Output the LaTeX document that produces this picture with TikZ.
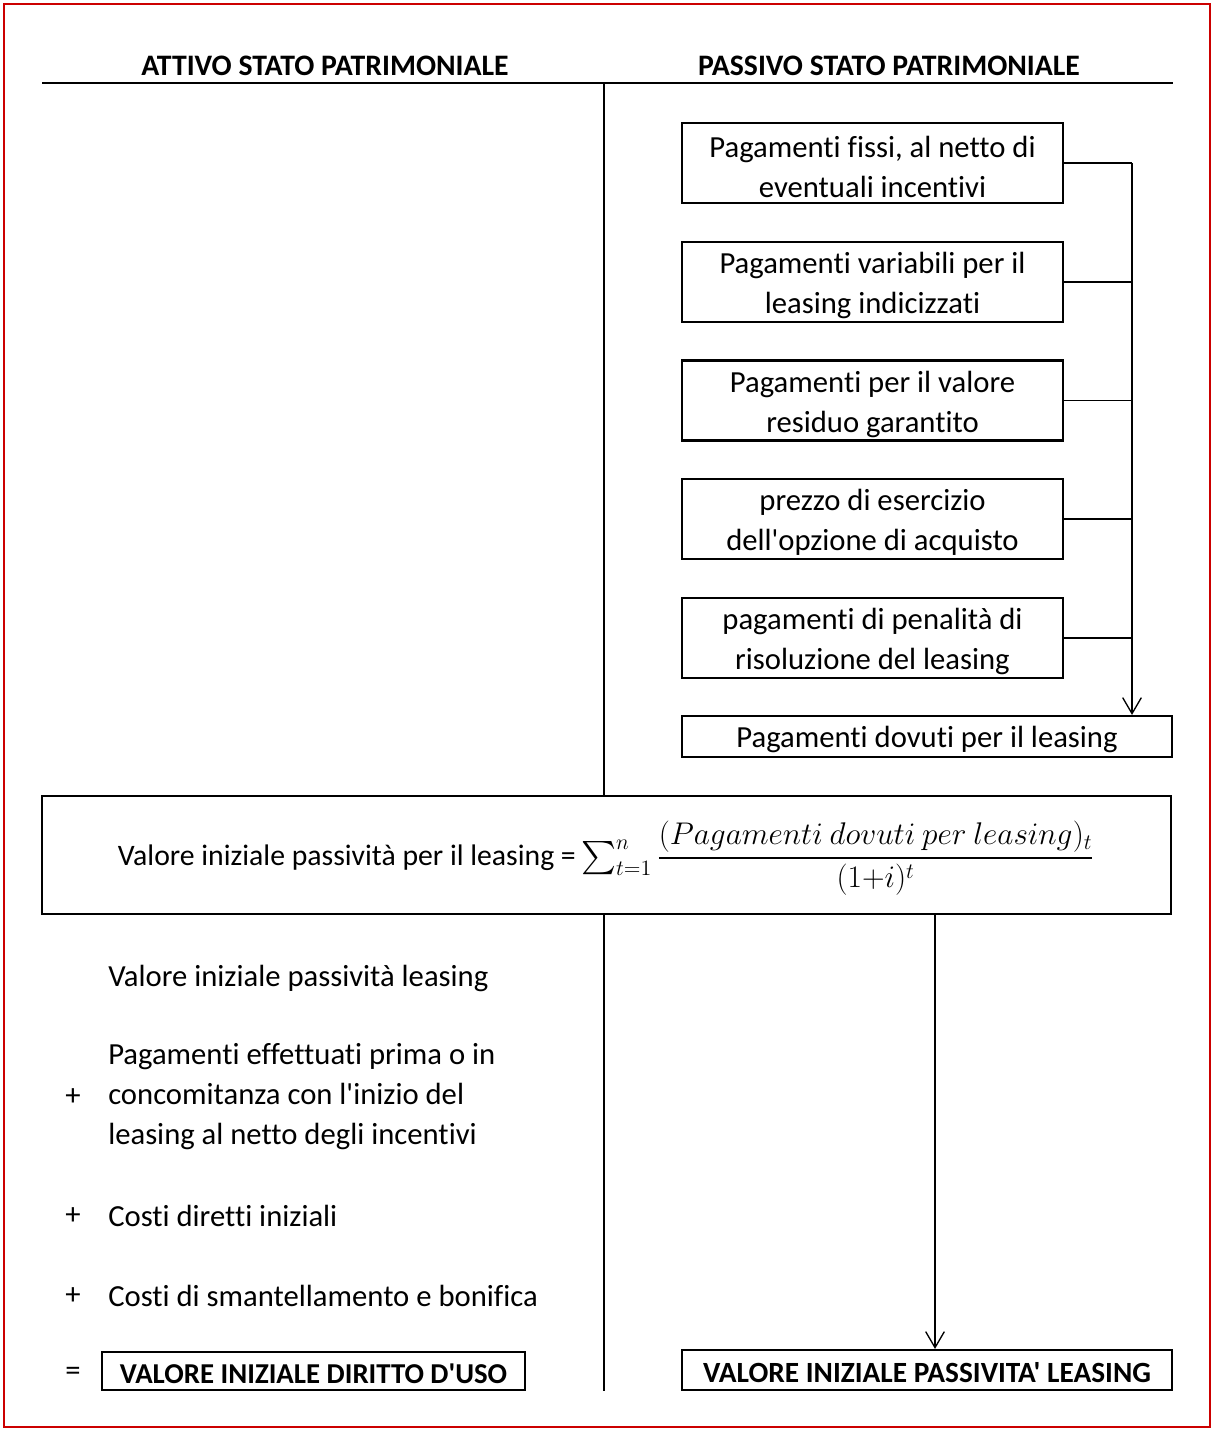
\documentclass[tikz,border=0pt]{standalone}
\usepackage{fix-cm}
\usepackage{exscale}
\usepackage{fontspec}
\setmainfont{Carlito}[Ligatures={TeXOff,NoCommon}]
\usetikzlibrary{arrows.meta}
\definecolor{frame}{RGB}{204,0,0}
\begin{document}
\begin{tikzpicture}[x=0.75pt,y=-0.75pt,
  every node/.style={font=\fontsize{23}{30}\selectfont},
  hdr/.style={font=\bfseries\fontsize{22.3}{26}\selectfont},
  bigbold/.style={font=\bfseries\fontsize{21.6}{26}\selectfont},
  rule/.style={line width=2pt},
  conn/.style={line width=1.4pt},
  arr/.style={line width=1pt,-{Straight Barb[length=12pt,width=14pt,line width=1pt]}},
  pbox/.style={draw,line width=1.6pt,minimum width=381*0.75pt,minimum height=80*0.75pt,inner sep=0pt,align=center},
  sbox/.style={draw,line width=1.6pt,inner sep=0pt,align=center},
  ltext/.style={anchor=west,align=left,inner sep=0pt}
]
\useasboundingbox (0,0) rectangle (1213,1430);
\draw[frame,line width=2pt] (4,4) rectangle (1210,1427);

% headers
\node[hdr] (hA) at (325,66) {ATTIVO STATO PATRIMONIALE};
\node[hdr] (hP) at (889,66) {PASSIVO STATO PATRIMONIALE};
\coordinate (hl) at (42,83);
\coordinate (hr) at (1173,83);
\draw[rule] (hl) -- (hr);
\coordinate (vtop) at (604,83);
\coordinate (vbot) at (604,1391);

% right boxes
\node[pbox] (b1) at (872.5,163) {\rule{0pt}{21.5pt}Pagamenti fissi, al netto di\\eventuali incentivi};
\node[pbox] (b2) at (872.5,282) {\rule{0pt}{21.5pt}Pagamenti variabili per il\\leasing indicizzati};
\node[pbox] (b3) at (872.5,400.5) {\rule{0pt}{21.5pt}Pagamenti per il valore\\residuo garantito};
\node[pbox] (b4) at (872.5,519) {\rule{0pt}{21.5pt}prezzo di esercizio\\dell'opzione di acquisto};
\node[pbox] (b5) at (872.5,638) {\rule{0pt}{21.5pt}pagamenti di penalità di\\risoluzione del leasing};
\node[sbox,minimum width=490*0.75pt,minimum height=41*0.75pt] (fin) at (927,736.5) {\raisebox{-8pt}[0pt][0pt]{Pagamenti dovuti per il leasing}};

\coordinate (bus) at (1132,163);
\foreach \b in {b1,b2,b3,b4,b5}{\draw[conn] (\b.east) -- (\b.east -| bus);}
\draw[arr] (bus) -- (bus |- fin.north);

% formula box
\node[sbox,minimum width=1129*0.75pt,minimum height=118*0.75pt] (big) at (606.5,855) {};
\node (formula) at (606,858) {{\fontsize{22.3}{26}\selectfont Valore iniziale passività per il leasing =}\,{\fontsize{23.5}{28}\selectfont$\sum\nolimits_{t=1}^{n}{\displaystyle\frac{(Pagamenti\:dovuti\:per\:leasing)_t}{(1{+}i)^t}}$}};

\draw[rule] (vtop) -- (vtop |- big.north);
\draw[rule] (vtop |- big.south) -- (vbot);

% left column
\node[ltext] (l1) at (108,978) {Valore iniziale passività leasing};
\node[ltext] (l2) at (108,1097) {Pagamenti effettuati prima o in\\concomitanza con l'inizio del\\leasing al netto degli incentivi};
\node (p1) at (73,1097) {+};
\node[ltext] (l3) at (108,1216) {Costi diretti iniziali};
\node (p2) at (73,1216) {+};
\node[ltext] (l4) at (108,1296) {Costi di smantellamento e bonifica};
\node (p3) at (73,1296) {+};
\node (eq) at (73,1374) {=};
\node[sbox,bigbold,minimum width=423*0.75pt,minimum height=38*0.75pt] (lbox) at (313.5,1371) {\raisebox{-9pt}[0pt][0pt]{VALORE INIZIALE DIRITTO D'USO}};

% right bottom
\node[sbox,bigbold,font=\bfseries\fontsize{22}{26}\selectfont,minimum width=490*0.75pt,minimum height=40*0.75pt] (rbox) at (927,1370) {\raisebox{-9.2pt}[0pt][0pt]{VALORE INIZIALE PASSIVITA' LEASING}};
\coordinate (arrtop) at (935,914);
\draw[arr] (arrtop) -- (arrtop |- rbox.north);
\end{tikzpicture}
\end{document}
